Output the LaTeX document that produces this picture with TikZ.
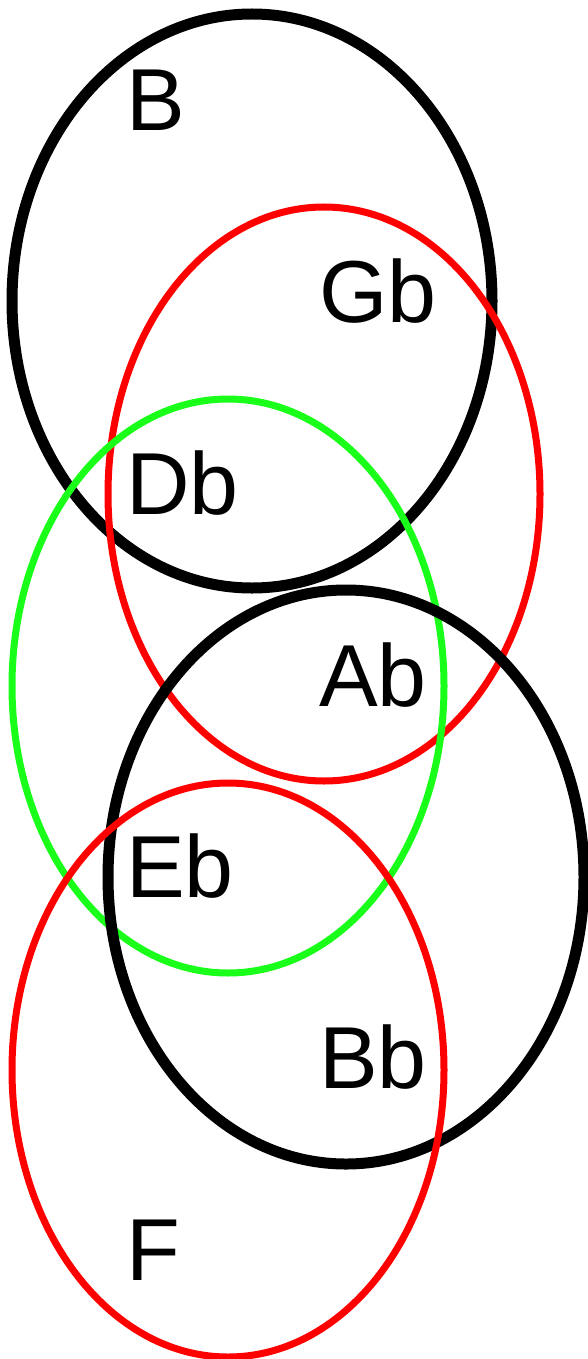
\documentclass[tikz,border=0pt]{standalone}
\usepackage{fontspec}
\setmainfont{Liberation Sans}
\usepackage{tikz}
\definecolor{ringgreen}{RGB}{26,255,26}

\begin{document}
\begin{tikzpicture}[x=1pt, y=-1pt,
        thickring/.style={draw=black, line width=11pt},
        redring/.style={draw=red, line width=7pt},
        greenring/.style={draw=ringgreen, line width=7pt},
        note/.style={anchor=base west, inner sep=0pt, font=\fontsize{88}{88}\selectfont}]
        \useasboundingbox (0,0) rectangle (588,1359);

        \draw[thickring] (252,301) ellipse [x radius=240, y radius=287];
        \draw[redring] (324,494) ellipse [x radius=216, y radius=287];
        \draw[greenring] (228,686) ellipse [x radius=216, y radius=287];
        \draw[thickring] (346,877) ellipse [x radius=238, y radius=287];
        \draw[redring] (228,1070) ellipse [x radius=216, y radius=287];

        \node (nB) [note] at (126,131) {B};
        \node (nGb) [note] at (319,322) {Gb};
        \node (nDb) [note] at (126,514) {Db};
        \node (nAb) [note] at (319,706) {Ab};
        \node (nEb) [note] at (126,897) {Eb};
        \node (nBb) [note] at (319,1088) {Bb};
        \node (nF) [note] at (126,1280) {F};
    \end{tikzpicture}
\end{document}
